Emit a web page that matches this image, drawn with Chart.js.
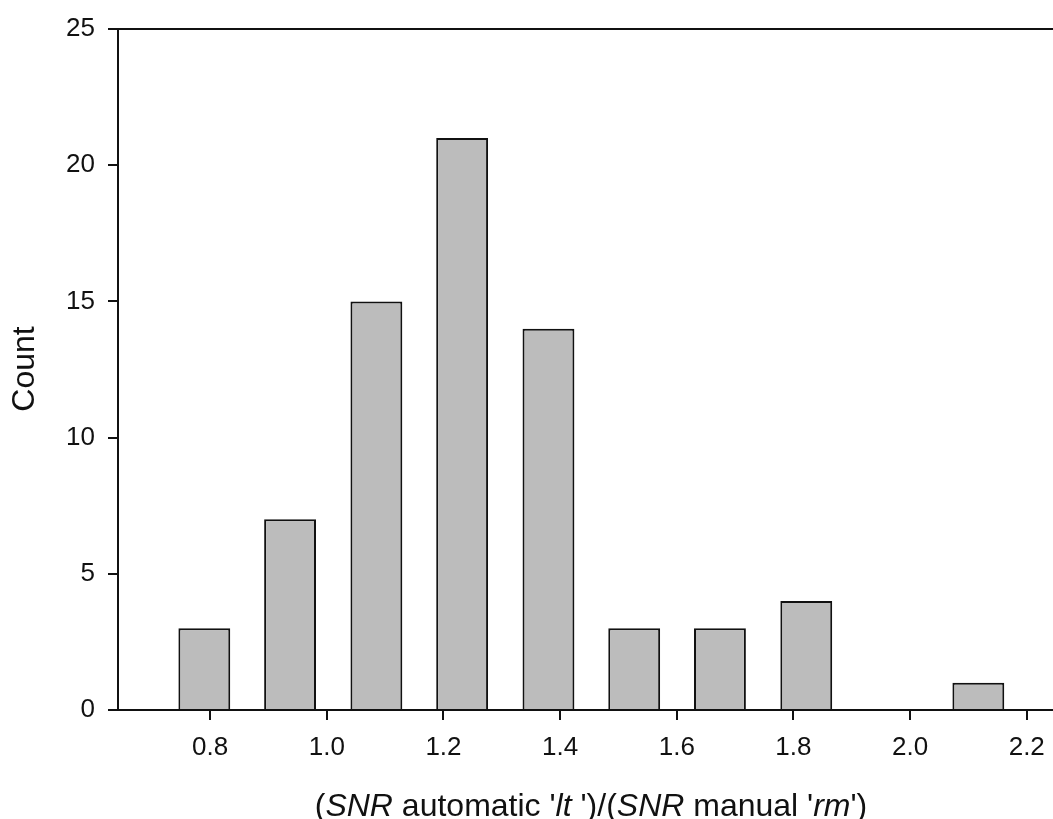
<!DOCTYPE html>
<html lang="en">
<head>
  <meta charset="UTF-8" />
  <title>SNR ratio histogram</title>
  <script src="https://cdn.jsdelivr.net/npm/chart.js"></script>
  <style>
    body {
      margin: 0;
      background: #ffffff;
    }
    .wrap {
      width: 1053px;
      height: 819px;
      position: relative;
    }
  </style>
</head>
<body>

<div class="wrap">
  <canvas id="histChart" role="img" aria-label="Histogram of SNR ratio"></canvas>
</div>

<script>
  const binCenters = [0.790, 0.937, 1.085, 1.232, 1.380, 1.527, 1.674, 1.822, 1.969, 2.117];
  const counts = [3, 7, 15, 21, 14, 3, 3, 4, 0, 1];
  const xTicks = [0.8, 1.0, 1.2, 1.4, 1.6, 1.8, 2.0, 2.2];
  const yTicks = [0, 5, 10, 15, 20, 25];

  const xTitleParts = [
    { text: "(", italic: false },
    { text: "SNR", italic: true },
    { text: " automatic '", italic: false },
    { text: "lt", italic: true },
    { text: " ')/(", italic: false },
    { text: "SNR", italic: true },
    { text: " manual '", italic: false },
    { text: "rm", italic: true },
    { text: "')", italic: false }
  ];
  const yTitle = "Count";

  const FONT = "'Liberation Sans', Arial, sans-serif";
  const ink = "#111111";

  // titles + the top frame line (chart.js can't mix italic runs in one title)
  const framePlugin = {
    id: "frame",
    afterDraw(chart) {
      const { ctx, chartArea } = chart;
      ctx.save();
      ctx.strokeStyle = ink;
      ctx.lineWidth = 2;
      ctx.beginPath();
      ctx.moveTo(chartArea.left, chartArea.top);
      ctx.lineTo(chartArea.right, chartArea.top);
      ctx.stroke();

      // y title
      ctx.fillStyle = ink;
      ctx.font = "32px " + FONT;
      ctx.textAlign = "center";
      ctx.textBaseline = "middle";
      ctx.translate(25, 369);
      ctx.rotate(-Math.PI / 2);
      ctx.fillText(yTitle, 0, 0);
      ctx.restore();

      // x title, mixed italic
      ctx.save();
      ctx.fillStyle = ink;
      ctx.textBaseline = "alphabetic";
      ctx.textAlign = "left";
      const size = 32;
      let total = 0;
      xTitleParts.forEach(p => {
        ctx.font = (p.italic ? "italic " : "") + size + "px " + FONT;
        p.w = ctx.measureText(p.text).width;
        total += p.w;
      });
      let x = 591 - total / 2;
      xTitleParts.forEach(p => {
        ctx.font = (p.italic ? "italic " : "") + size + "px " + FONT;
        ctx.fillText(p.text, x, 816);
        x += p.w;
      });
      ctx.restore();
    }
  };

  const histChart = new Chart(document.getElementById("histChart"), {
    type: "bar",
    data: {
      datasets: [{
        label: "Count",
        data: binCenters.map((c, i) => ({ x: c, y: counts[i] })),
        backgroundColor: "#bcbcbc",
        borderColor: ink,
        borderWidth: 2,
        borderSkipped: "start",
        barPercentage: 0.605,
        categoryPercentage: 1
      }]
    },
    options: {
      responsive: true,
      maintainAspectRatio: false,
      animation: false,
      layout: { padding: { top: 29, left: 0, right: 0, bottom: 0 } },
      plugins: {
        legend: { display: false },
        tooltip: { enabled: false }
      },
      scales: {
        x: {
          type: "linear",
          min: 0.642,
          max: 2.245,
          offset: false,
          afterBuildTicks: axis => { axis.ticks = xTicks.map(v => ({ value: v })); },
          afterFit: scale => {
            scale.height = 109;
            scale.paddingLeft = 0;
            scale.paddingRight = 0;
          },
          border: { color: ink, width: 2 },
          grid: { offset: false, drawOnChartArea: false, drawTicks: true, tickLength: 10, color: ink, lineWidth: 2 },
          ticks: {
            color: ink,
            padding: 12,
            maxRotation: 0,
            font: { family: FONT, size: 26 },
            callback: v => v.toFixed(1)
          }
        },
        y: {
          min: 0,
          max: 25,
          afterBuildTicks: axis => { axis.ticks = yTicks.map(v => ({ value: v })); },
          afterFit: scale => { scale.width = 118; },
          border: { color: ink, width: 2 },
          grid: { drawOnChartArea: false, drawTicks: true, tickLength: 10, color: ink, lineWidth: 2 },
          ticks: {
            color: ink,
            padding: 13,
            font: { family: FONT, size: 26 }
          }
        }
      }
    },
    plugins: [framePlugin]
  });
</script>

</body>
</html>
